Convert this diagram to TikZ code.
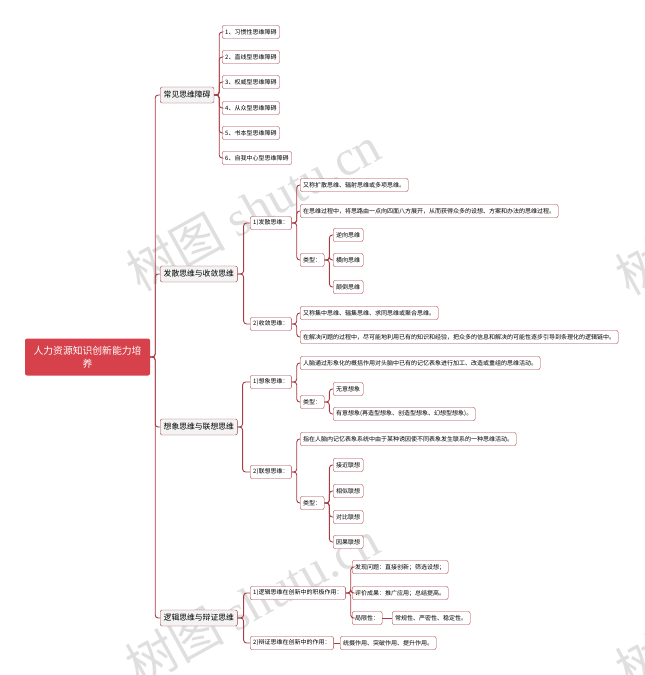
\documentclass[tikz,border=0pt]{standalone}
\usepackage{fontspec}
\setmainfont{Noto Sans CJK SC}
\newfontfamily\wmserif{Liberation Serif}
\usepackage{tikz}
\usetikzlibrary{positioning}
\usepackage{xcolor}

\definecolor{rootred}{HTML}{D7414B}
\definecolor{linered}{HTML}{A83C42}
\definecolor{topicfill}{HTML}{F3F3F3}

\begin{document}
\begin{tikzpicture}[
    x=1pt, y=-1pt,
    every node/.style={rectangle, rounded corners=2pt, align=left, inner xsep=3pt, inner ysep=0pt},
    rootbox/.style={fill=rootred, text=white, font=\fontsize{9.8}{13}\selectfont, text width=112pt, align=center, inner xsep=6.5pt, minimum height=37pt},
    topic/.style={draw=linered, fill=topicfill, font=\fontsize{7.8}{9}\selectfont, inner xsep=3.5pt, minimum height=16pt, anchor=west},
    leaf/.style={draw=linered, fill=white, font=\fontsize{6}{7}\selectfont, minimum height=13pt, anchor=west},
    link/.style={draw=linered, line width=0.9pt, rounded corners=3pt},
    wmark/.style={text=gray!25, font=\fontsize{50}{50}\selectfont, rotate=29}
]
    \useasboundingbox (0,0) rectangle (645,675);

    % Watermarks
    \node (wm1) [wmark] at (253,208) {树图 {\wmserif shutu.cn}};
    \node (wm2) [wmark] at (252,602) {树图 {\wmserif shutu.cn}};
    \node (wm3) [wmark] at (642,268) {树};
    \node (wm4) [wmark] at (642,662) {树};

    % Root
    \node (root) [rootbox] at (87.5,357) {人力资源知识创新能力培\\养};

    % Main topics
    \node (habit) [topic] at (160,95) {常见思维障碍};
    \node (diverge) [topic] at (160,274) {发散思维与收敛思维};
    \node (imagine) [topic] at (160,427) {想象思维与联想思维};
    \node (logic) [topic] at (160,618) {逻辑思维与辩证思维};

    % Common obstacles
    \node (hab1) [leaf] at (222,32) {1、习惯性思维障碍};
    \node (hab2) [leaf] at (222,57) {2、直线型思维障碍};
    \node (hab3) [leaf] at (222,82) {3、权威型思维障碍};
    \node (hab4) [leaf] at (222,108) {4、从众型思维障碍};
    \node (hab5) [leaf] at (222,133) {5、书本型思维障碍};
    \node (hab6) [leaf] at (222,158) {6、自我中心型思维障碍};

    % Divergent / convergent
    \node (div) [leaf] at (250,223) {1)发散思维：};
    \node (div_a) [leaf] at (300,185) {又称扩散思维、辐射思维或多项思维。};
    \node (div_b) [leaf] at (300,211) {在思维过程中，将思路由一点向四面八方展开，从而获得众多的设想、方案和办法的思维过程。};
    \node (div_type) [leaf] at (300,260) {类型：};
    \node (div_t1) [leaf] at (333,235) {逆向思维};
    \node (div_t2) [leaf] at (333,260) {横向思维};
    \node (div_t3) [leaf] at (333,287) {颠倒思维};
    \node (conv) [leaf] at (250,324) {2)收敛思维：};
    \node (conv_a) [leaf] at (300,313) {又称集中思维、辐集思维、求同思维或聚合思维。};
    \node (conv_b) [leaf] at (300,337) {在解决问题的过程中，尽可能地利用已有的知识和经验，把众多的信息和解决的可能性逐步引导到条理化的逻辑链中。};

    % Imagination / association
    \node (img) [leaf] at (250,382) {1)想象思维：};
    \node (img_a) [leaf] at (300,363) {人脑通过形象化的概括作用对头脑中已有的记忆表象进行加工、改造或重组的思维活动。};
    \node (img_type) [leaf] at (300,402) {类型：};
    \node (img_t1) [leaf] at (333,389) {无意想象};
    \node (img_t2) [leaf] at (333,414) {有意想象(再造型想象、创造型想象、幻想型想象)。};
    \node (asc) [leaf] at (250,472) {2)联想思维：};
    \node (asc_a) [leaf] at (300,439) {指在人脑内记忆表象系统中由于某种诱因使不同表象发生联系的一种思维活动。};
    \node (asc_type) [leaf] at (300,503) {类型：};
    \node (asc_t1) [leaf] at (333,465) {接近联想};
    \node (asc_t2) [leaf] at (333,491) {相似联想};
    \node (asc_t3) [leaf] at (333,517) {对比联想};
    \node (asc_t4) [leaf] at (333,542) {因果联想};

    % Logic / dialectic
    \node (lgc) [leaf] at (250,593) {1)逻辑思维在创新中的积极作用：};
    \node (lgc_a) [leaf] at (352,567) {发现问题：直接创新；筛选设想；};
    \node (lgc_b) [leaf] at (352,593) {评价成果：推广应用；总结提高。};
    \node (lgc_lim) [leaf] at (352,618) {局限性：};
    \node (lgc_lim_a) [leaf] at (392,618) {常规性、严密性、稳定性。};
    \node (dia) [leaf] at (250,643) {2)辩证思维在创新中的作用：};
    \node (dia_a) [leaf] at (340,643) {统摄作用、突破作用、提升作用。};

    % Root links
    \draw [link] (root.east) -- ++(5,0) |- (habit.west);
    \draw [link] (root.east) -- ++(5,0) |- (diverge.west);
    \draw [link] (root.east) -- ++(5,0) |- (imagine.west);
    \draw [link] (root.east) -- ++(5,0) |- (logic.west);

    % Obstacle links
    \draw [link] (habit.east) -- ++(5,0) |- (hab1.west);
    \draw [link] (habit.east) -- ++(5,0) |- (hab2.west);
    \draw [link] (habit.east) -- ++(5,0) |- (hab3.west);
    \draw [link] (habit.east) -- ++(5,0) |- (hab4.west);
    \draw [link] (habit.east) -- ++(5,0) |- (hab5.west);
    \draw [link] (habit.east) -- ++(5,0) |- (hab6.west);

    % Divergent links
    \draw [link] (diverge.east) -- ++(6,0) |- (div.west);
    \draw [link] (diverge.east) -- ++(6,0) |- (conv.west);
    \draw [link] (div.east) -- ++(5,0) |- (div_a.west);
    \draw [link] (div.east) -- ++(5,0) |- (div_b.west);
    \draw [link] (div.east) -- ++(5,0) |- (div_type.west);
    \draw [link] (div_type.east) -- ++(5,0) |- (div_t1.west);
    \draw [link] (div_type.east) -- ++(5,0) |- (div_t2.west);
    \draw [link] (div_type.east) -- ++(5,0) |- (div_t3.west);
    \draw [link] (conv.east) -- ++(5,0) |- (conv_a.west);
    \draw [link] (conv.east) -- ++(5,0) |- (conv_b.west);

    % Imagination links
    \draw [link] (imagine.east) -- ++(5,0) |- (img.west);
    \draw [link] (imagine.east) -- ++(5,0) |- (asc.west);
    \draw [link] (img.east) -- ++(5,0) |- (img_a.west);
    \draw [link] (img.east) -- ++(5,0) |- (img_type.west);
    \draw [link] (img_type.east) -- ++(5,0) |- (img_t1.west);
    \draw [link] (img_type.east) -- ++(5,0) |- (img_t2.west);
    \draw [link] (asc.east) -- ++(5,0) |- (asc_a.west);
    \draw [link] (asc.east) -- ++(5,0) |- (asc_type.west);
    \draw [link] (asc_type.east) -- ++(5,0) |- (asc_t1.west);
    \draw [link] (asc_type.east) -- ++(5,0) |- (asc_t2.west);
    \draw [link] (asc_type.east) -- ++(5,0) |- (asc_t3.west);
    \draw [link] (asc_type.east) -- ++(5,0) |- (asc_t4.west);

    % Logic links
    \draw [link] (logic.east) -- ++(6,0) |- (lgc.west);
    \draw [link] (logic.east) -- ++(6,0) |- (dia.west);
    \draw [link] (lgc.east) -- ++(5,0) |- (lgc_a.west);
    \draw [link] (lgc.east) -- ++(5,0) |- (lgc_b.west);
    \draw [link] (lgc.east) -- ++(5,0) |- (lgc_lim.west);
    \draw [link] (lgc_lim.east) -- (lgc_lim_a.west);
    \draw [link] (dia.east) -- (dia_a.west);

\end{tikzpicture}
\end{document}
